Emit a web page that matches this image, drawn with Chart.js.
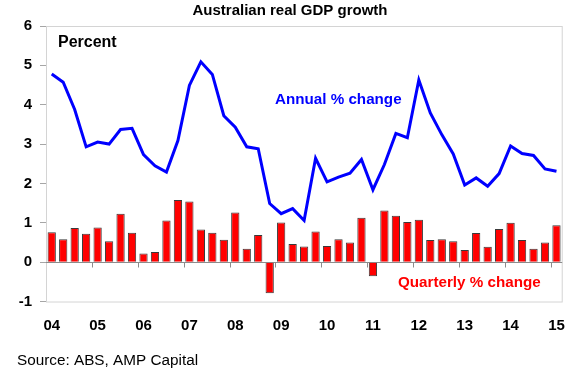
<!DOCTYPE html>
<html>
<head>
<meta charset="utf-8">
<script src="https://cdn.jsdelivr.net/npm/chart.js@4.4.1/dist/chart.umd.min.js"></script>
<style>
  html, body { margin: 0; padding: 0; background: #fff; }
  #wrap { width: 580px; height: 373px; position: relative; }
</style>
</head>
<body>
<div id="wrap"><canvas id="gdp"></canvas></div>
<script>
// godine na x osi (prvi kvartal svake godine)
const tickYears = ['04', '05', '06', '07', '08', '09', '10', '11', '12', '13', '14', '15'];

// kvartalni rast BDP-a, % (2004 Q1 - 2015 Q1)
const quarterlyChange = [
    0.76, 0.58, 0.87, 0.72, 0.88, 0.53, 1.23, 0.75,
    0.22, 0.26, 1.06, 1.58, 1.54, 0.83, 0.75, 0.57,
    1.26, 0.34, 0.69, -0.79, 1.01, 0.46, 0.40, 0.78,
    0.41, 0.58, 0.50, 1.13, -0.36, 1.31, 1.18, 1.02,
    1.08, 0.56, 0.58, 0.53, 0.31, 0.74, 0.39, 0.84,
    1.00, 0.56, 0.34, 0.50, 0.94
];

// godisnji rast BDP-a, %
const annualChange = [
    4.78, 4.57, 3.88, 2.93, 3.05, 3.00, 3.37, 3.40,
    2.73, 2.45, 2.29, 3.09, 4.49, 5.09, 4.77, 3.72,
    3.43, 2.93, 2.88, 1.49, 1.23, 1.36, 1.06, 2.64,
    2.04, 2.16, 2.26, 2.61, 1.84, 2.48, 3.27, 3.16,
    4.63, 3.79, 3.24, 2.75, 1.96, 2.14, 1.93, 2.25,
    2.95, 2.76, 2.71, 2.37, 2.31
];

// oznake kvartala
const quarters = [];
tickYears.forEach(function(god) {
    for (let q = 1; q <= 4; q++) {
        if (quarters.length < quarterlyChange.length) quarters.push(god + 'Q' + q);
    }
});

const fontFam = '"Liberation Sans", Arial, sans-serif';

// okvir, nulta linija i tekstovi
const ukrasi = {
    id: 'ukrasi',
    beforeDatasetsDraw(chart) {
        const ctx = chart.ctx;
        const a = chart.chartArea;
        const x = chart.scales.x;
        const y = chart.scales.y;
        ctx.save();
        ctx.strokeStyle = '#d4d4d4';
        ctx.lineWidth = 1;
        ctx.strokeRect(a.left + 0.5, a.top + 0.5, a.right - a.left - 0.5, a.bottom - a.top);

        const y0 = Math.round(y.getPixelForValue(0)) + 0.5;
        ctx.strokeStyle = '#8c8c8c';
        ctx.beginPath();
        ctx.moveTo(a.left, y0);
        ctx.lineTo(a.right, y0);
        for (let i = 4; i < quarters.length; i += 4) {
            const xp = Math.round((x.getPixelForValue(i - 1) + x.getPixelForValue(i)) / 2) + 0.5;
            ctx.moveTo(xp, y0);
            ctx.lineTo(xp, y0 + 5);
        }
        ctx.stroke();
        ctx.restore();
    },
    afterDraw(chart) {
        const ctx = chart.ctx;
        ctx.save();
        ctx.textBaseline = 'middle';

        ctx.fillStyle = '#000';
        ctx.font = 'bold 15px ' + fontFam;
        ctx.textAlign = 'center';
        ctx.fillText('Australian real GDP growth', 290, 11);

        ctx.textAlign = 'left';
        ctx.font = 'bold 16px ' + fontFam;
        ctx.fillText('Percent', 58, 43);

        ctx.fillStyle = '#0000ff';
        ctx.font = 'bold 15.2px ' + fontFam;
        ctx.fillText('Annual % change', 275, 100);
        ctx.fillStyle = '#ff0000';
        ctx.fillText('Quarterly % change', 398, 283);

        ctx.fillStyle = '#000';
        ctx.font = '15.3px ' + fontFam;
        ctx.fillText('Source: ABS, AMP Capital', 17, 361);
        ctx.restore();
    }
};

const ctxGdp = document.getElementById('gdp').getContext('2d');
const chartGdp = new Chart(ctxGdp, {
    type: 'bar',
    data: {
        labels: quarters,
        datasets: [{
            type: 'line',
            label: 'Annual % change',
            data: annualChange,
            borderColor: '#0000ff',
            borderWidth: 3,
            pointRadius: 0,
            tension: 0,
            order: 0
        }, {
            type: 'bar',
            label: 'Quarterly % change',
            data: quarterlyChange,
            backgroundColor: '#ff0000',
            borderColor: '#3a3a3a',
            borderWidth: 1,
            barPercentage: 0.72,
            categoryPercentage: 1,
            order: 1
        }]
    },
    options: {
        responsive: true,
        maintainAspectRatio: false,
        animation: false,
        devicePixelRatio: 1,
        layout: {
            padding: { top: 26, right: 16, left: 0, bottom: 0 }
        },
        plugins: {
            legend: { display: false },
            tooltip: { enabled: false }
        },
        scales: {
            x: {
                offset: true,
                grid: { display: false, drawTicks: false },
                border: { display: false },
                ticks: {
                    autoSkip: false,
                    maxRotation: 0,
                    padding: 15,
                    color: '#000',
                    font: { family: fontFam, size: 15, weight: 'bold' },
                    callback: function(val, index) {
                        return index % 4 === 0 ? tickYears[index / 4] : '';
                    }
                },
                afterFit: function(scale) { scale.height = 71.5; }
            },
            y: {
                min: -1,
                max: 6,
                ticks: {
                    stepSize: 1,
                    padding: 8,
                    color: '#000',
                    font: { family: fontFam, size: 15, weight: 'bold' }
                },
                grid: {
                    drawOnChartArea: false,
                    tickLength: 6,
                    color: '#a6a6a6'
                },
                border: { color: '#a6a6a6' },
                afterFit: function(scale) { scale.width = 46; }
            }
        }
    },
    plugins: [ukrasi]
});
</script>
</body>
</html>
